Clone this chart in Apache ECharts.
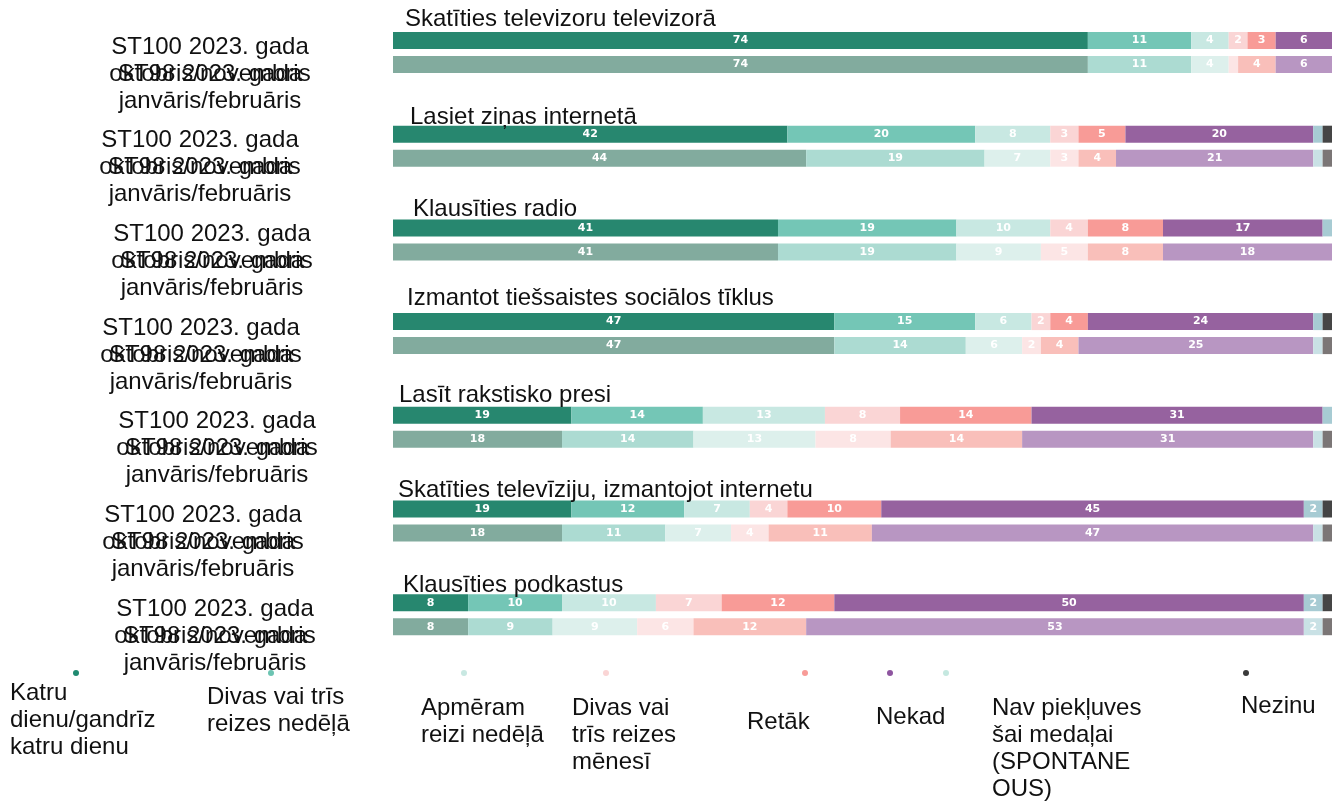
<!DOCTYPE html>
<html>
<head>
<meta charset="utf-8">
<script src="https://cdn.jsdelivr.net/npm/echarts@6/dist/echarts.min.js"></script>
<style>
  html, body { margin: 0; padding: 0; background: #fff; }
  #chart { width: 1340px; height: 803px; }
</style>
</head>
<body>
<div id="chart"></div>
<script>
// ---- DATA ----
const groupTitles = [
  'Skatīties televizoru televizorā',
  'Lasiet ziņas internetā',
  'Klausīties radio',
  'Izmantot tiešsaistes sociālos tīklus',
  'Lasīt rakstisko presi',
  'Skatīties televīziju, izmantojot internetu',
  'Klausīties podkastus'
];
const periods = [
  'ST100 2023. gada\noktobris/novembris',
  'ST98 2023. gada\njanvāris/februāris'
];
const responses = [
  'Katru dienu/gandrīz katru dienu',
  'Divas vai trīs reizes nedēļā',
  'Apmēram reizi nedēļā',
  'Divas vai trīs reizes mēnesī',
  'Retāk',
  'Nekad',
  'Nav piekļuves šai medaļai (SPONTANEOUS)',
  'Nezinu'
];
// values per group, in the order of responses
const valuesST100 = [
  [74, 11, 4, 2, 3, 6, 0, 0],
  [42, 20, 8, 3, 5, 20, 1, 1],
  [41, 19, 10, 4, 8, 17, 1, 0],
  [47, 15, 6, 2, 4, 24, 1, 1],
  [19, 14, 13, 8, 14, 31, 1, 0],
  [19, 12, 7, 4, 10, 45, 2, 1],
  [8, 10, 10, 7, 12, 50, 2, 1]
];
const valuesST98 = [
  [74, 11, 4, 1, 4, 6, 0, 0],
  [44, 19, 7, 3, 4, 21, 1, 1],
  [41, 19, 9, 5, 8, 18, 0, 0],
  [47, 14, 6, 2, 4, 25, 1, 1],
  [18, 14, 13, 8, 14, 31, 1, 1],
  [18, 11, 7, 4, 11, 47, 1, 1],
  [8, 9, 9, 6, 12, 53, 2, 1]
];
const legendLabels = [
  'Katru\ndienu/gandrīz\nkatru dienu',
  'Divas vai trīs\nreizes nedēļā',
  'Apmēram\nreizi nedēļā',
  'Divas vai\ntrīs reizes\nmēnesī',
  'Retāk',
  'Nekad',
  'Nav piekļuves\nšai medaļai\n(SPONTANE\nOUS)',
  'Nezinu'
];

// ---- STYLE ----
const colorsA = ['#27876f', '#74c6b6', '#c8e8e2', '#fad5d5', '#f89b97', '#96629f', '#a7cbd3', '#454545'];
const colorsB = ['#82ab9e', '#acdbd2', '#ddf0ec', '#fce5e5', '#f9bfba', '#b896c2', '#c9e1e5', '#7b7676'];
const dotColors = ['#1f8a70', '#6cc4b2', '#c8e8e2', '#fad5d5', '#f89b97', '#8e55a0', '#c5e8e0', '#3a3a3a'];
const FONT = 'Liberation Sans, Arial, sans-serif';

const gridTop0 = 28.5, gridPitch = 93.7;
const labelCenters = [210, 200, 212, 201, 217, 203, 215];
const titleLefts = [405, 410, 413, 407, 399, 398, 403];
const titleTops = [7, 105, 197, 286, 383, 478, 573];

const grids = [], xAxes = [], yAxes = [], series = [], titles = [];
groupTitles.forEach((t, g) => {
  grids.push({ left: 393, width: 939, top: gridTop0 + g * gridPitch, height: 48,
               containLabel: false, outerBoundsMode: 'none' });
  xAxes.push({ type: 'value', gridIndex: g, min: 0, max: 100, show: false });
  yAxes.push({
    type: 'category', gridIndex: g, inverse: true, data: periods,
    axisLine: { show: false }, axisTick: { show: false }, splitLine: { show: false },
    axisLabel: {
      interval: 0, hideOverlap: false,
      align: 'center', margin: 393 - labelCenters[g],
      fontSize: 24, lineHeight: 27, fontFamily: FONT, color: '#111',
      formatter: (v, i) => (i === 0 ? '{s| }\n' : '{t| }\n') + v,
      rich: { s: { lineHeight: 40, fontSize: 10 }, t: { lineHeight: 46, fontSize: 10 } }
    }
  });
  titles.push({
    text: t, left: titleLefts[g], top: titleTops[g], padding: 0,
    textStyle: { fontSize: 24, fontWeight: 'normal', fontFamily: FONT, color: '#111' }
  });
  responses.forEach((r, c) => {
    series.push({
      type: 'bar', name: r, stack: 'g' + g, xAxisIndex: g, yAxisIndex: g,
      barWidth: 17,
      data: [
        { value: valuesST100[g][c], itemStyle: { color: colorsA[c] } },
        { value: valuesST98[g][c], itemStyle: { color: colorsB[c] } }
      ],
      label: {
        show: true, position: 'inside', color: '#fff',
        fontSize: 11, fontWeight: 'bold', fontFamily: 'DejaVu Sans',
        formatter: p => (p.value >= 2 ? String(p.value) : '')
      },
      emphasis: { disabled: true }
    });
  });
});

// legend drawn as graphic: dot + multi-line text
const dotX = [76, 271, 464, 606, 805, 890, 946, 1246];
const textX = [10, 207, 421, 572, 747, 876, 992, 1241];
const textY = [680, 684, 695, 695, 709, 704, 695, 693];
const graphics = [];
legendLabels.forEach((lbl, i) => {
  graphics.push({ type: 'circle', shape: { cx: dotX[i], cy: 673, r: 3 }, style: { fill: dotColors[i] } });
  graphics.push({
    type: 'text', x: textX[i], y: textY[i],
    style: { text: lbl, font: '24px ' + FONT, lineHeight: 27, fill: '#111', textAlign: 'left', textVerticalAlign: 'top' }
  });
});

const chart = echarts.init(document.getElementById('chart'), null, { renderer: 'canvas' });
chart.setOption({
  animation: false,
  backgroundColor: '#fff',
  title: titles,
  grid: grids,
  xAxis: xAxes,
  yAxis: yAxes,
  series: series,
  graphic: graphics,
  tooltip: { show: false }
});
</script>
</body>
</html>
